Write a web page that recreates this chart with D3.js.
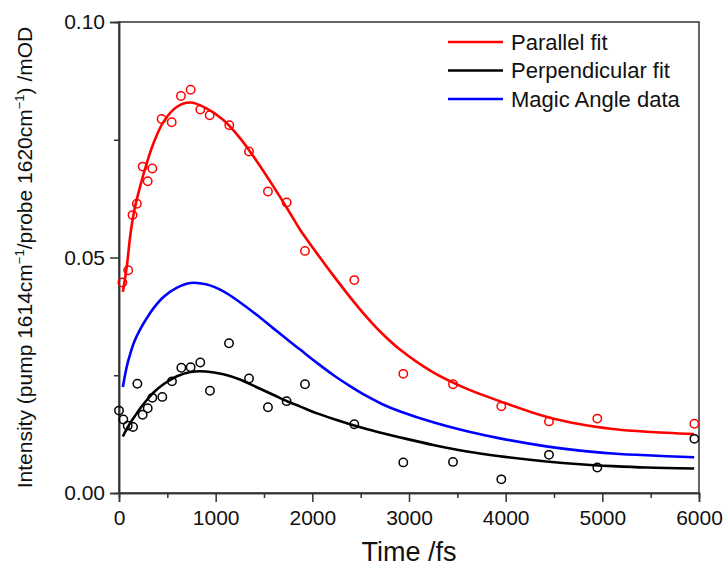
<script src="https://d3js.org/d3.v7.min.js"></script>
<style>
    body { margin: 0; background: #fff; }
    svg { font-family: Arial, 'Liberation Sans', sans-serif; }
</style>
<svg width="723" height="568"></svg>
<script>
    // scatter points
    var parT = [35, 95, 140, 185, 245, 297, 345, 441, 545, 641, 741, 841, 938, 1141, 1345, 1541, 1734, 1924, 2434, 2941, 3455, 3955, 4448, 4948, 5952];
    var parY = [0.0447, 0.0473, 0.0590, 0.0614, 0.0693, 0.0662, 0.0689, 0.0794, 0.0787, 0.0843, 0.0856, 0.0814, 0.0802, 0.0781, 0.0725, 0.0640, 0.0617, 0.0514, 0.0452, 0.0253, 0.0231, 0.0184, 0.0152, 0.0158, 0.0147];

    var perpT = [0, 45, 90, 145, 190, 245, 297, 345, 448, 548, 645, 741, 841, 941, 1138, 1345, 1541, 1734, 1924, 2434, 2941, 3455, 3955, 4448, 4948, 5952];
    var perpY = [0.0175, 0.0156, 0.0143, 0.0140, 0.0232, 0.0166, 0.0180, 0.0202, 0.0204, 0.0237, 0.0266, 0.0267, 0.0277, 0.0217, 0.0318, 0.0243, 0.0182, 0.0195, 0.0231, 0.0146, 0.0065, 0.0066, 0.0029, 0.0081, 0.0054, 0.0115];

    // fit curves
    var fitT = [40, 80, 120, 160, 220, 290, 360, 460, 600, 740, 900, 1080, 1250, 1420, 1600, 1770, 1870, 2050, 2220, 2390, 2560, 2730, 2910, 3250, 3600, 3940, 4420, 4770, 5110, 5460, 5950];
    var parFit = [0.0427, 0.0480, 0.0552, 0.0602, 0.0652, 0.0702, 0.0744, 0.0788, 0.0820, 0.0829, 0.0817, 0.0792, 0.0754, 0.0706, 0.0650, 0.0594, 0.0560, 0.0508, 0.0461, 0.0416, 0.0374, 0.0337, 0.0304, 0.0256, 0.0221, 0.0195, 0.0162, 0.0146, 0.0136, 0.0130, 0.0125];
    var perpFit = [0.0120, 0.0136, 0.0150, 0.0162, 0.0180, 0.0198, 0.0214, 0.0231, 0.0248, 0.0257, 0.0258, 0.0252, 0.0241, 0.0225, 0.0208, 0.0192, 0.0184, 0.0169, 0.0157, 0.0146, 0.0136, 0.0127, 0.0118, 0.0102, 0.0088, 0.0078, 0.0067, 0.0061, 0.0057, 0.0054, 0.0052];
    var magic = [0.0225, 0.0268, 0.0298, 0.0322, 0.0348, 0.0372, 0.0393, 0.0416, 0.0436, 0.0446, 0.0443, 0.0428, 0.0405, 0.0379, 0.0349, 0.0321, 0.0305, 0.0276, 0.0250, 0.0227, 0.0206, 0.0188, 0.0173, 0.0150, 0.0131, 0.0116, 0.0099, 0.0090, 0.0084, 0.0080, 0.0076];

    var legendNames = ['Parallel fit', 'Perpendicular fit', 'Magic Angle data'];
    var colors = ['#ff0000', '#000000', '#0000ff'];

    var svg = d3.select('svg');
    var mLeft = 119, mRight = 699, mTop = 22, mBottom = 493;

    var x = d3.scaleLinear().domain([0, 6000]).range([mLeft, mRight]);
    var y = d3.scaleLinear().domain([0, 0.1]).range([mBottom, mTop]);

    // frame
    svg.append('rect')
        .attr('x', mLeft).attr('y', mTop)
        .attr('width', mRight - mLeft).attr('height', mBottom - mTop)
        .attr('fill', 'none').attr('stroke', '#333').attr('stroke-width', 1.5);

    function styleAxis(g) {
        g.select('.domain').attr('stroke', '#333').attr('stroke-width', 1.5);
        g.selectAll('.tick line').attr('stroke', '#333').attr('stroke-width', 1.5);
        g.selectAll('text').attr('font-size', 21).attr('fill', '#111');
        g.attr('font-family', null).attr('font-size', null);
    }

    svg.append('g')
        .attr('transform', 'translate(0,' + mBottom + ')')
        .call(d3.axisBottom(x).tickValues([500, 1500, 2500, 3500, 4500, 5500]).tickSize(5).tickFormat(''))
        .call(styleAxis);
    svg.append('g')
        .attr('transform', 'translate(0,' + mBottom + ')')
        .call(d3.axisBottom(x).tickValues([0, 1000, 2000, 3000, 4000, 5000, 6000]).tickSize(9).tickPadding(8).tickFormat(d3.format('d')))
        .call(styleAxis);

    svg.append('g')
        .attr('transform', 'translate(' + mLeft + ',0)')
        .call(d3.axisLeft(y).tickValues([0.025, 0.075]).tickSize(5).tickFormat(''))
        .call(styleAxis);
    svg.append('g')
        .attr('transform', 'translate(' + mLeft + ',0)')
        .call(d3.axisLeft(y).tickValues([0, 0.05, 0.1]).tickSize(9).tickPadding(5).tickFormat(d3.format('.2f')))
        .call(styleAxis);

    // axis titles
    svg.append('text')
        .attr('x', (mLeft + mRight) / 2).attr('y', 561)
        .attr('text-anchor', 'middle')
        .attr('font-size', 27).attr('fill', '#111')
        .text('Time /fs');

    var yl = svg.append('text')
        .attr('transform', 'translate(32,' + (mTop + mBottom) / 2 + ') rotate(-90)')
        .attr('text-anchor', 'middle')
        .attr('font-size', 21).attr('fill', '#111');
    yl.append('tspan').text('Intensity (pump 1614cm');
    yl.append('tspan').attr('font-size', 13).attr('dy', -8).text('\u22121');
    yl.append('tspan').attr('dy', 8).text('/probe 1620cm');
    yl.append('tspan').attr('font-size', 13).attr('dy', -8).text('\u22121');
    yl.append('tspan').attr('dy', 8).text(') /mOD');

    // curves
    var line = d3.line()
        .x(function(d) { return x(d[0]); })
        .y(function(d) { return y(d[1]); })
        .curve(d3.curveCatmullRom);

    [parFit, perpFit, magic].forEach(function(vals, i) {
        svg.append('path')
            .datum(fitT.map(function(t, j) { return [t, vals[j]]; }))
            .attr('d', line)
            .attr('fill', 'none')
            .attr('stroke', colors[i])
            .attr('stroke-width', 2.6);
    });

    // scatter
    function dots(ts, vs, color) {
        svg.append('g').selectAll('circle')
            .data(ts.map(function(t, j) { return [t, vs[j]]; }))
            .enter()
            .append('circle')
            .attr('cx', function(d) { return x(d[0]); })
            .attr('cy', function(d) { return y(d[1]); })
            .attr('r', 4.2)
            .attr('fill', 'none')
            .attr('stroke', color)
            .attr('stroke-width', 1.5);
    }
    dots(parT, parY, colors[0]);
    dots(perpT, perpY, colors[1]);

    // legend
    var leg = svg.append('g').selectAll('g')
        .data(legendNames)
        .enter()
        .append('g')
        .attr('transform', function(d, i) { return 'translate(448,' + (42 + i * 28.5) + ')'; });
    leg.append('line')
        .attr('x1', 0).attr('x2', 55)
        .attr('stroke', function(d, i) { return colors[i]; })
        .attr('stroke-width', 2.6);
    leg.append('text')
        .attr('x', 63).attr('dy', '0.35em')
        .attr('font-size', 22).attr('fill', '#111')
        .text(function(d) { return d; });
</script>
